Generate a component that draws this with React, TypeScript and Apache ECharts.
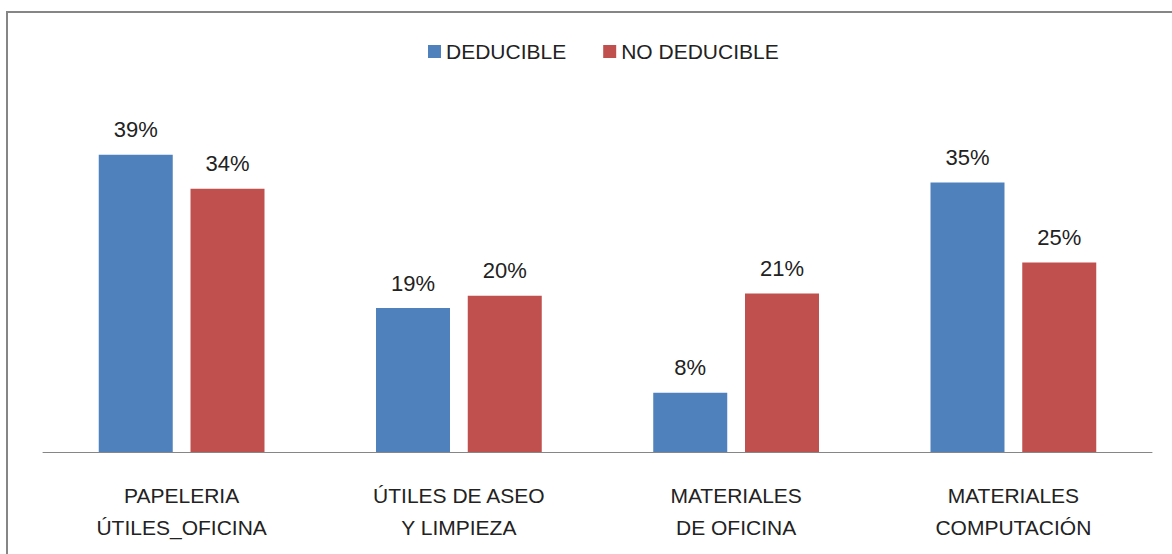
import React, { useEffect, useRef } from "react";
import * as echarts from "echarts";

const categories = [
  "PAPELERIA\nÚTILES_OFICINA",
  "ÚTILES DE ASEO\nY LIMPIEZA",
  "MATERIALES\nDE OFICINA",
  "MATERIALES\nCOMPUTACIÓN",
];
const seriesNames = ["DEDUCIBLE", "NO DEDUCIBLE"];
const deducible = [38.6, 18.7, 7.7, 35.0];
const noDeducible = [34.2, 20.3, 20.6, 24.6];
const colors = ["#4F81BD", "#C0504D"];

const FONT = "'Liberation Sans', Arial, sans-serif";
const TEXT = "#222222";

export default function App() {
  const ref = useRef<HTMLDivElement>(null);
  useEffect(() => {
    if (!ref.current) return;
    const chart = echarts.init(ref.current, undefined, { renderer: "svg" });
    const label = {
      show: true,
      position: "top",
      distance: 14,
      fontFamily: FONT,
      fontSize: 22,
      color: TEXT,
      formatter: (p: any) => Math.round(p.value) + "%",
    };
    chart.setOption({
      animation: false,
      backgroundColor: "#ffffff",
      textStyle: { fontFamily: FONT },
      graphic: [
        {
          type: "rect",
          shape: { x: 7, y: 12, width: 1200, height: 600 },
          style: { fill: "none", stroke: "#868686", lineWidth: 2 },
          silent: true,
        },
      ],
      legend: {
        left: 423,
        top: 36,
        itemWidth: 13,
        itemHeight: 13,
        itemGap: 37,
        icon: "rect",
        textStyle: { fontFamily: FONT, fontSize: 21, color: TEXT },
        data: seriesNames,
      },
      grid: { left: 43, right: 20, top: 67, bottom: 102 },
      xAxis: {
        type: "category",
        data: categories,
        axisLine: { show: true, lineStyle: { color: "#868686", width: 1 } },
        axisTick: { show: false },
        axisLabel: {
          margin: 27,
          fontFamily: FONT,
          fontSize: 21,
          lineHeight: 32,
          color: TEXT,
          interval: 0,
        },
      },
      yAxis: {
        type: "value",
        min: 0,
        max: 50,
        show: false,
        splitLine: { show: false },
      },
      series: [
        {
          name: seriesNames[0],
          type: "bar",
          data: deducible,
          barWidth: 74,
          barGap: "24%",
          itemStyle: { color: colors[0] },
          label,
        },
        {
          name: seriesNames[1],
          type: "bar",
          data: noDeducible,
          barWidth: 74,
          barGap: "24%",
          itemStyle: { color: colors[1] },
          label,
        },
      ],
    });
    return () => chart.dispose();
  }, []);
  return (
    <div
      ref={ref}
      style={{ position: "fixed", left: 0, top: 0, width: 1172, height: 554 }}
    />
  );
}
